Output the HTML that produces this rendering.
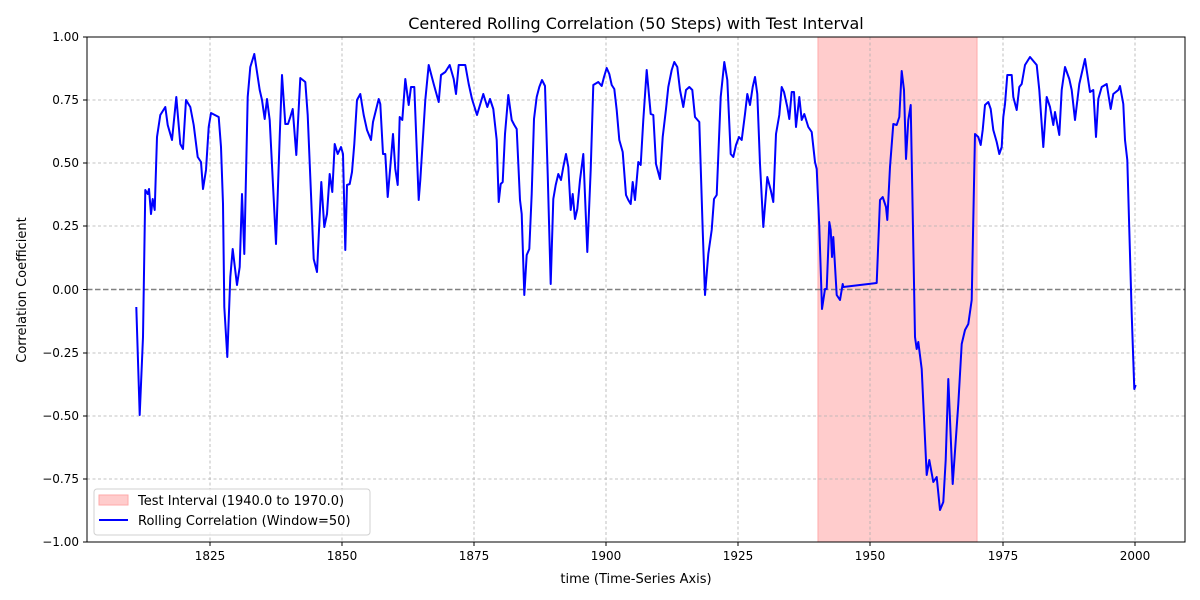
<!DOCTYPE html>
<html><head><meta charset="utf-8"><style>
html,body{margin:0;padding:0;background:#fff;}
svg{display:block;font-family:"DejaVu Sans","Liberation Sans",sans-serif;}
</style></head><body>
<svg width="1200" height="600" viewBox="0 0 1200 600" xmlns="http://www.w3.org/2000/svg">
<rect width="1200" height="600" fill="#fff"/>
<rect x="818" y="37" width="159" height="505" fill="#ffcccc" stroke="#ffaaaa" stroke-width="1"/>
<g stroke="#b0b0b0" stroke-width="0.8" stroke-dasharray="3,2.5" fill="none">
<line x1="210" y1="37" x2="210" y2="542"/><line x1="342" y1="37" x2="342" y2="542"/><line x1="474" y1="37" x2="474" y2="542"/><line x1="606" y1="37" x2="606" y2="542"/><line x1="738" y1="37" x2="738" y2="542"/><line x1="870" y1="37" x2="870" y2="542"/><line x1="1003" y1="37" x2="1003" y2="542"/><line x1="1135" y1="37" x2="1135" y2="542"/>
<line x1="87" y1="100" x2="1185" y2="100"/><line x1="87" y1="163" x2="1185" y2="163"/><line x1="87" y1="226" x2="1185" y2="226"/><line x1="87" y1="353" x2="1185" y2="353"/><line x1="87" y1="416" x2="1185" y2="416"/><line x1="87" y1="479" x2="1185" y2="479"/>
</g>
<line x1="87" y1="289.5" x2="1185" y2="289.5" stroke="#808080" stroke-width="1.5" stroke-dasharray="5.5,2.5"/>
<polyline fill="none" stroke="#0000ff" stroke-width="2" stroke-linejoin="round" points="136.3,307 139.7,415 143,337 145.3,190 147.7,194 149,189 151,214 152.7,199 154.7,210 157,137 160.3,115 165.3,107 167.7,125 172,140 176.3,97 180.3,144 183,149 186,100 190.3,107 193.7,125 197.7,157 201,162 203,189 206,170 208.7,127 211,113 218.7,117 221,147 223,204 224.3,307 227.3,357 230.3,277 232.7,249 237,285 239.7,267 242,194 244.3,254 247.7,97 250.3,67 254.3,54 259.7,90 262,100 264.7,119 267,99 269.7,120 276,244 279.7,137 282,75 285.3,124 288,124 290.3,117 292.7,109 296.3,155 300.3,78 305.3,82 307.7,115 313.7,259 317,272 321.3,182 324.3,227 327,214 329.7,174 332.3,192 334.7,144 337.7,154 341,147 343,154 345.3,250 347,185 349.7,184 352,172 354.3,144 357,100 360.3,94 363.7,115 367,130 371,140 373,122 378.7,99 380.3,104 383,154 385.3,154 387.7,197 390.3,167 393,134 395.3,169 397.7,185 399.7,117 402.3,120 405.3,79 408.7,105 411,87 414.3,87 418.7,200 420.3,180 425.3,100 428.7,65 433.7,84 438.7,102 441,75 445.3,72 449.7,65 453.7,79 456,94 458.7,65 465.3,65 468.7,84 472,99 477,115 480.3,104 483.3,94 487.3,107 490,99 493.3,109 496.7,140 498.7,202 500.7,184 502.7,182 505,134 508.3,95 511.7,120 514.3,125 516.7,129 520,200 521.7,214 524.3,295 526.7,255 529.3,249 531.7,194 534,119 536.7,97 539.3,87 542,80 545,86 547.7,174 550.7,284 553.3,199 555.7,185 558.3,174 561,180 563.3,167 566,154 568.3,167 570.7,210 572.7,194 575,219 577.3,209 580,180 583.3,154 587.3,252 590.7,170 593.3,85 598.3,82 601.7,86 604,77 606.7,68 609.3,74 611.7,85 614.3,89 616.7,110 619.3,140 622.7,152 626,195 628.3,200 630.7,204 632.7,182 635,200 638.3,162 640.7,165 643.3,120 646.7,70 650.7,114 653.3,115 656,164 660,179 662.7,137 666,109 668.3,87 671.7,70 674.3,62 677.3,67 680,90 683.3,107 686,90 689.3,87 692.3,90 695,117 699.3,122 702.7,230 705,295 708.3,254 711.7,230 714,199 716.7,195 720.7,97 724.3,62 727.3,80 730.7,154 733.3,157 736,145 739,137 741.7,140 745,114 747.3,94 750,105 752.7,87 755,77 757.3,94 760,164 763.3,227 767.3,177 770.7,190 773.3,202 776,134 779.3,115 781.7,87 784,92 787.3,107 789.3,119 791.7,92 794,92 796,127 799.3,97 801.7,120 804.3,114 808.3,127 811.7,132 815,162 816.7,169 819.3,227 822,309 825,289 826.7,289 829.3,222 830.7,230 832,257 833.3,237 836.7,295 840,300 842.7,284 843.3,287 876.7,283 880,200 882.7,197 886,207 887.3,220 890,167 893.3,124 896.7,125 899.3,117 901.7,71 904,90 906,159 908.3,120 910.7,105 915,337 916.7,349 918.3,342 921.7,369 926.7,475 929.3,460 933.3,482 936.7,477 940,510 943.3,502 945.7,460 948.3,379 952.7,484 958.3,404 961.7,344 965,330 968.3,324 971.7,300 975,134 978.3,137 980.7,145 982.7,130 985,105 988.3,102 990.7,109 993.3,130 996.7,142 999.3,154 1001.7,147 1003.3,117 1005,104 1007.3,75 1011.7,75 1013.3,97 1016.7,110 1019.3,87 1021.7,84 1025,65 1030,57 1036.7,65 1039.3,90 1043.3,147 1046.7,97 1050,107 1053.3,125 1055,112 1059.3,135 1061.7,90 1065,67 1069.3,79 1071.7,90 1075,120 1079.3,84 1085,59 1090,92 1093.3,90 1096,137 1098.3,99 1101.7,87 1106.7,84 1110.7,109 1113.3,94 1118.3,90 1120,86 1123.3,104 1125,140 1127.3,160 1131.7,314 1134.3,389 1135.7,385"/>
<rect x="87" y="37" width="1098" height="505" fill="none" stroke="#000" stroke-width="1"/>
<g stroke="#000" stroke-width="1">
<line x1="210" y1="542" x2="210" y2="546"/><line x1="342" y1="542" x2="342" y2="546"/><line x1="474" y1="542" x2="474" y2="546"/><line x1="606" y1="542" x2="606" y2="546"/><line x1="738" y1="542" x2="738" y2="546"/><line x1="870" y1="542" x2="870" y2="546"/><line x1="1003" y1="542" x2="1003" y2="546"/><line x1="1135" y1="542" x2="1135" y2="546"/>
<line x1="83" y1="37" x2="87" y2="37"/><line x1="83" y1="100" x2="87" y2="100"/><line x1="83" y1="163" x2="87" y2="163"/><line x1="83" y1="226" x2="87" y2="226"/><line x1="83" y1="289.5" x2="87" y2="289.5"/><line x1="83" y1="353" x2="87" y2="353"/><line x1="83" y1="416" x2="87" y2="416"/><line x1="83" y1="479" x2="87" y2="479"/><line x1="83" y1="542" x2="87" y2="542"/>
</g>
<g font-size="12" fill="#000" text-anchor="middle">
<text x="210" y="560">1825</text><text x="342" y="560">1850</text><text x="474" y="560">1875</text><text x="606" y="560">1900</text><text x="738" y="560">1925</text><text x="870" y="560">1950</text><text x="1003" y="560">1975</text><text x="1135" y="560">2000</text>
</g>
<g font-size="12" fill="#000" text-anchor="end">
<text x="79" y="41">1.00</text><text x="79" y="104">0.75</text><text x="79" y="167">0.50</text><text x="79" y="230">0.25</text><text x="79" y="294">0.00</text><text x="79" y="357">−0.25</text><text x="79" y="420">−0.50</text><text x="79" y="483">−0.75</text><text x="79" y="546">−1.00</text>
</g>
<text x="636" y="583" font-size="13" text-anchor="middle">time (Time-Series Axis)</text>
<text transform="translate(26,290) rotate(-90)" font-size="13" text-anchor="middle">Correlation Coefficient</text>
<text x="636" y="29" font-size="16" text-anchor="middle">Centered Rolling Correlation (50 Steps) with Test Interval</text>
<rect x="94" y="489" width="276" height="46" rx="3" fill="#fff" fill-opacity="0.8" stroke="#d0d0d0"/>
<rect x="99" y="495" width="29" height="10" fill="#ffcccc" stroke="#ffaaaa"/>
<line x1="99" y1="520" x2="128" y2="520" stroke="#0000ff" stroke-width="2"/>
<text x="138" y="505" font-size="13">Test Interval (1940.0 to 1970.0)</text>
<text x="138" y="525" font-size="13">Rolling Correlation (Window=50)</text>
</svg>
</body></html>
